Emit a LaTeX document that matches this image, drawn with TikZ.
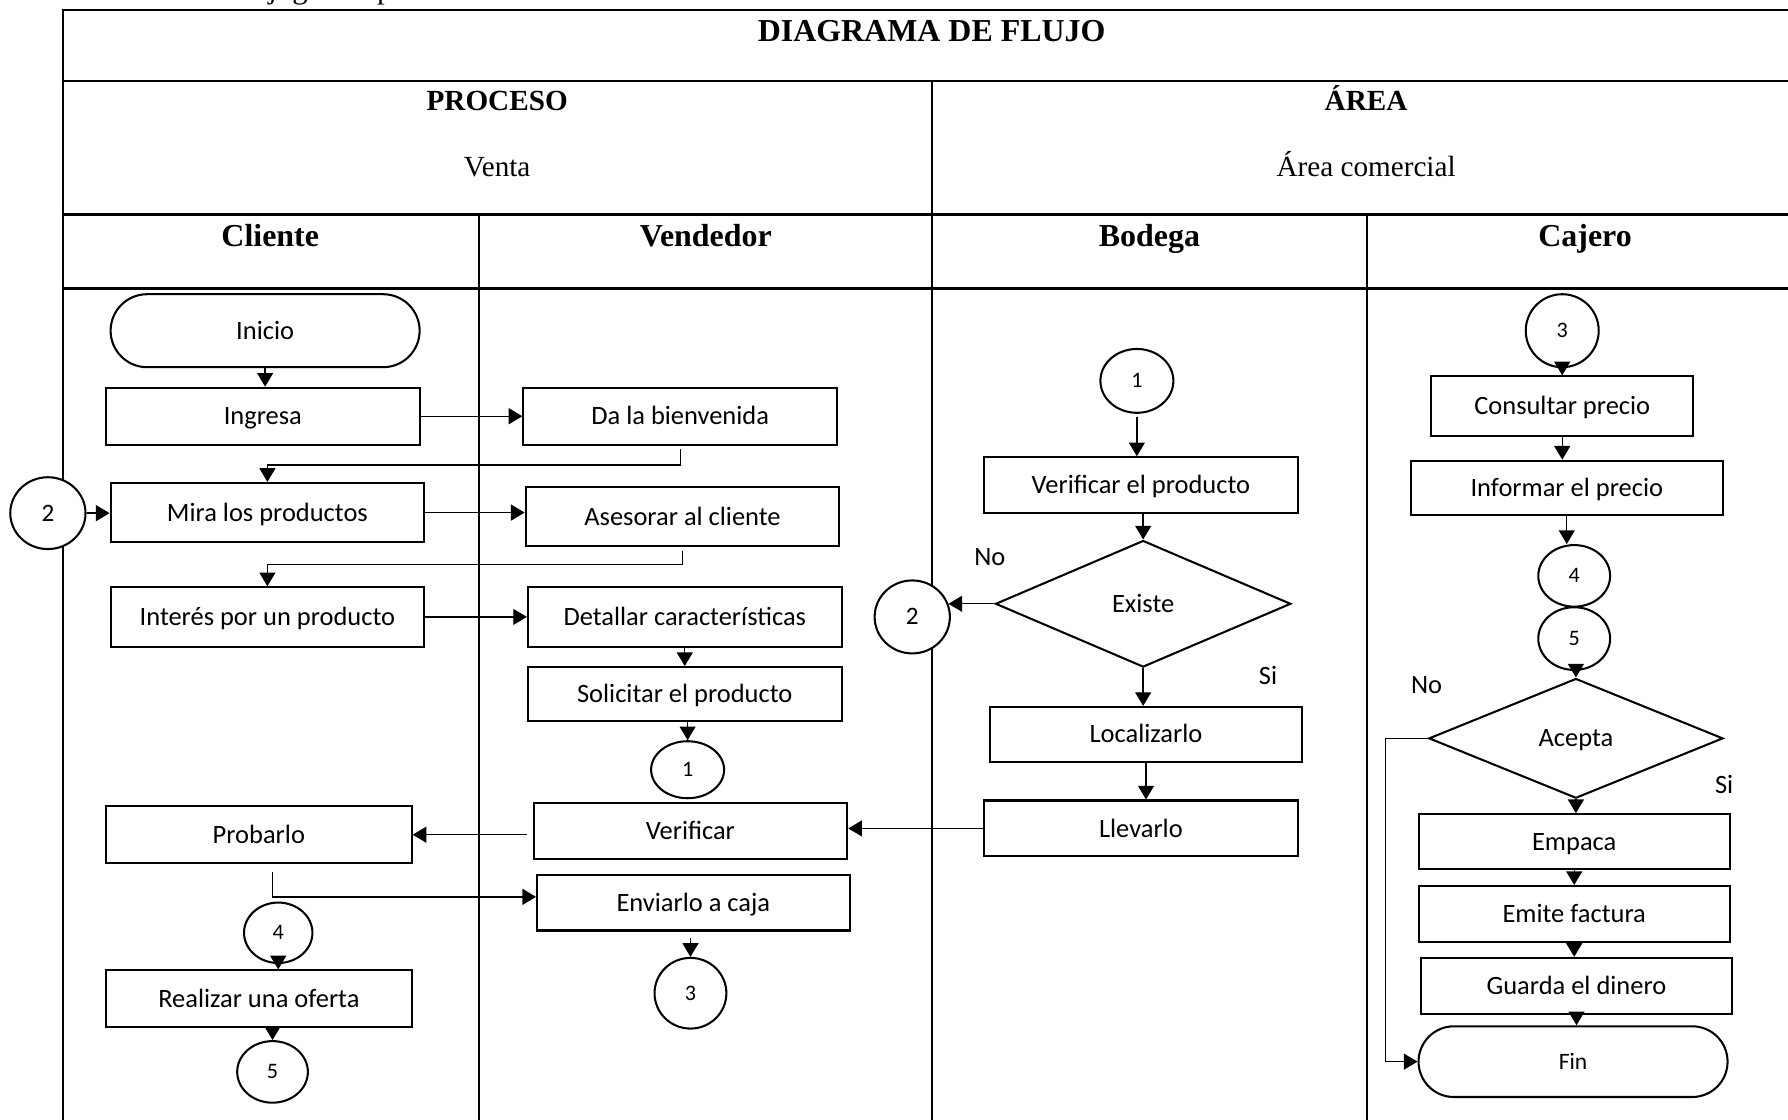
\documentclass[tikz,border=0pt]{standalone}
\usepackage{fontspec}
\setmainfont{Liberation Serif}
\newfontfamily\calfont{Carlito}
\usetikzlibrary{shapes.geometric,shapes.misc,arrows.meta,calc}
\begin{document}
\begin{tikzpicture}[x=0.5pt,y=-0.5pt,
  tline/.style={line width=1pt},
  vline/.style={line width=0.85pt},
  sz/.style 2 args={minimum width={#1*0.5pt}, minimum height={#2*0.5pt}},
  cfont/.style={font=\calfont\fontsize{11.6}{14}\selectfont, text height=7.5pt, text depth=0pt},
  box/.style={draw, fill=white, line width=0.9pt, rectangle, inner sep=0pt, cfont},
  stad/.style={draw, fill=white, line width=0.9pt, rounded rectangle, inner sep=0pt, cfont},
  ell/.style={draw, fill=white, line width=0.9pt, ellipse, inner sep=0pt, font=\calfont\fontsize{9.7}{11}\selectfont, text height=6.1pt, text depth=0pt},
  ellb/.style={ell, font=\calfont\fontsize{11}{13}\selectfont, text height=7pt},
  dia/.style={draw, fill=white, line width=0.9pt, diamond, inner sep=0pt, cfont},
  lbl/.style={inner sep=0pt, cfont},
  hb/.style={inner sep=0pt, anchor=base, font=\bfseries\fontsize{14}{16}\selectfont},
  hbs/.style={inner sep=0pt, anchor=base, font=\bfseries\fontsize{12.8}{15}\selectfont},
  hr/.style={inner sep=0pt, anchor=base, font=\fontsize{12.8}{15}\selectfont},
  arr/.style={line width=0.6pt, -{Triangle[length=6pt,width=7pt]}}
]
\useasboundingbox (0,0) rectangle (1568,982);
% caption cut off at the top
\node[inner sep=0pt, anchor=base west, font=\fontsize{13.5}{16}\selectfont] (cap) at (199,-1.5) {Flujograma proceso};
% table
\draw[tline] (54,9) -- (1600,9);
\draw[tline] (54,71) -- (1600,71);
\draw[tline] (54,188) -- (1600,188);
\draw[tline] (54,253) -- (1600,253);
\draw[vline] (55,8) -- (55,1000);
\draw[vline] (817,71) -- (817,1000);
\draw[vline] (420,188) -- (420,1000);
\draw[vline] (1199,188) -- (1199,1000);
% headers
\node[hb] (title) at (817,36) {DIAGRAMA DE FLUJO};
\node[hbs] (hproc) at (436,96.5) {PROCESO};
\node[hr] (hventa) at (436,155) {Venta};
\node[hbs] (harea) at (1198,96.5) {ÁREA};
\node[hr] (hcom) at (1198,155) {Área comercial};
\node[hb] (hcli) at (237,216) {Cliente};
\node[hb] (hven) at (619,216) {Vendedor};
\node[hb] (hbod) at (1008,216) {Bodega};
\node[hb] (hcaj) at (1390,216) {Cajero};
% Cliente
\node[stad, sz={271}{64}] (ini) at (232.5,290) {Inicio};
\node[box, sz={275}{50}] (ing) at (230.5,365) {Ingresa};
\node[box, sz={275}{52}] (mira) at (234.5,449.5) {Mira los productos};
\node[box, sz={275}{52}] (inter) at (234.5,541) {Interés por un producto};
\node[box, sz={268}{50}] (prob) at (227,732) {Probarlo};
\node[ell, sz={60}{53}] (c4a) at (244,818) {4};
\node[box, sz={268}{50}] (ofer) at (227,876) {Realizar una oferta};
\node[ell, sz={62}{54}] (c5a) at (239,940) {5};
\node[ellb, sz={66}{63}] (c2a) at (42,450) {2};
% Vendedor
\node[box, sz={275}{50}] (bien) at (596.5,365) {Da la bienvenida};
\node[box, sz={275}{52}] (ases) at (598.5,453) {Asesorar al cliente};
\node[box, sz={275}{52}] (deta) at (600.5,541) {Detallar características};
\node[box, sz={275}{47}] (soli) at (600.5,608.5) {Solicitar el producto};
\node[ell, sz={64}{50}] (c1a) at (603,675) {1};
\node[box, sz={275}{49}] (veri) at (605.5,728.5) {Verificar};
\node[box, sz={274}{49}] (envi) at (608,791.5) {Enviarlo a caja};
\node[ell, sz={63}{62}] (c3a) at (605.5,871) {3};
% Bodega
\node[ell, sz={64}{56}] (c1b) at (997,334) {1};
\node[box, sz={275}{49}] (vprod) at (1000.5,425.5) {Verificar el producto};
\node[dia, sz={259}{111}] (exis) at (1002.5,529.5) {Existe};
\node[ellb, sz={66}{64}] (c2b) at (800,541) {2};
\node[box, sz={274}{48}] (loca) at (1005,644) {Localizarlo};
\node[box, sz={275}{49}] (llev) at (1000.5,726.5) {Llevarlo};
\node[lbl] (no1) at (868,488) {No};
\node[lbl] (si1) at (1112,593) {Si};
% Cajero
\node[ell, sz={64}{64}] (c3b) at (1370,290) {3};
\node[box, sz={230}{52}] (cons) at (1370,356) {Consultar precio};
\node[box, sz={274}{48}] (info) at (1374,428) {Informar el precio};
\node[ell, sz={63}{54}] (c4b) at (1380.5,505) {4};
\node[ell, sz={63}{55}] (c5b) at (1380.5,560) {5};
\node[dia, sz={258}{105}] (acep) at (1382,647.5) {Acepta};
\node[box, sz={273}{48}] (emp) at (1380.5,738) {Empaca};
\node[box, sz={273}{49}] (emi) at (1380.5,801.5) {Emite factura};
\node[box, sz={273}{49}] (gua) at (1382.5,864.5) {Guarda el dinero};
\node[stad, sz={271}{62}, font=\calfont\fontsize{10.3}{12}\selectfont, text height=6.6pt] (fin) at (1379.5,931) {Fin};
\node[lbl] (no2) at (1251,601) {No};
\node[lbl] (si2) at (1512,688) {Si};
% connectors
\draw[arr] (ini.south) -- (ini.south |- ing.north);
\draw[arr] (ing.east) -- (ing.east -| bien.west);
\draw[arr] ($(bien.south)+(0,3)$) -- ++(0,14) -| (mira.north);
\draw[arr] (mira.east) -- (mira.east -| ases.west);
\draw[arr] ($(ases.south)+(0,3)$) -- ++(0,12) -| (inter.north);
\draw[arr] (inter.east) -- (inter.east -| deta.west);
\draw[arr] (c2a.east) -- (c2a.east -| mira.west);
\draw[arr] (deta.south) -- (deta.south |- soli.north);
\draw[arr] (c1a.north |- soli.south) -- (c1a.north);
\draw[arr] (llev.west) -- (llev.west -| veri.east);
\draw[arr] ($(veri.west |- prob.east)+(-5,0)$) -- (prob.east);
\draw[arr] ($(prob.south)+(12,7)$) |- ([yshift=2.5pt]envi.west);
\draw[arr] ($(c3a.north |- envi.south)+(0,6)$) -- (c3a.north);
\draw[arr] (c4a.south) -- (c4a.south |- ofer.north);
\draw[arr] (c5a.north |- ofer.south) -- (c5a.north);
\draw[arr] ($(c1b.south)+(0,3)$) -- (c1b.south |- vprod.north);
\draw[arr] (exis.north |- vprod.south) -- (exis.north);
\draw[arr] (exis.west) -- (exis.west -| c2b.20);
\draw[arr] (exis.south) -- (exis.south |- loca.north);
\draw[arr] (loca.south) -- (loca.south |- llev.north);
\draw[arr] (c3b.south) -- (c3b.south |- cons.north);
\draw[arr] (cons.south) -- (cons.south |- info.north);
\draw[arr] (info.south) -- (info.south |- c4b.north);
\draw[arr] (acep.north |- c5b.south) -- (acep.north);
\draw[arr] (acep.south) -- (acep.south |- emp.north);
\draw[arr] (emp.south) -- (emp.south |- emi.north);
\draw[arr] (emi.south) -- (emi.south |- gua.north);
\draw[arr] (gua.south) -- (gua.south |- fin.north);
\draw[arr] (acep.west) -- ++(-37,0) |- (fin.west);
\end{tikzpicture}
\end{document}
